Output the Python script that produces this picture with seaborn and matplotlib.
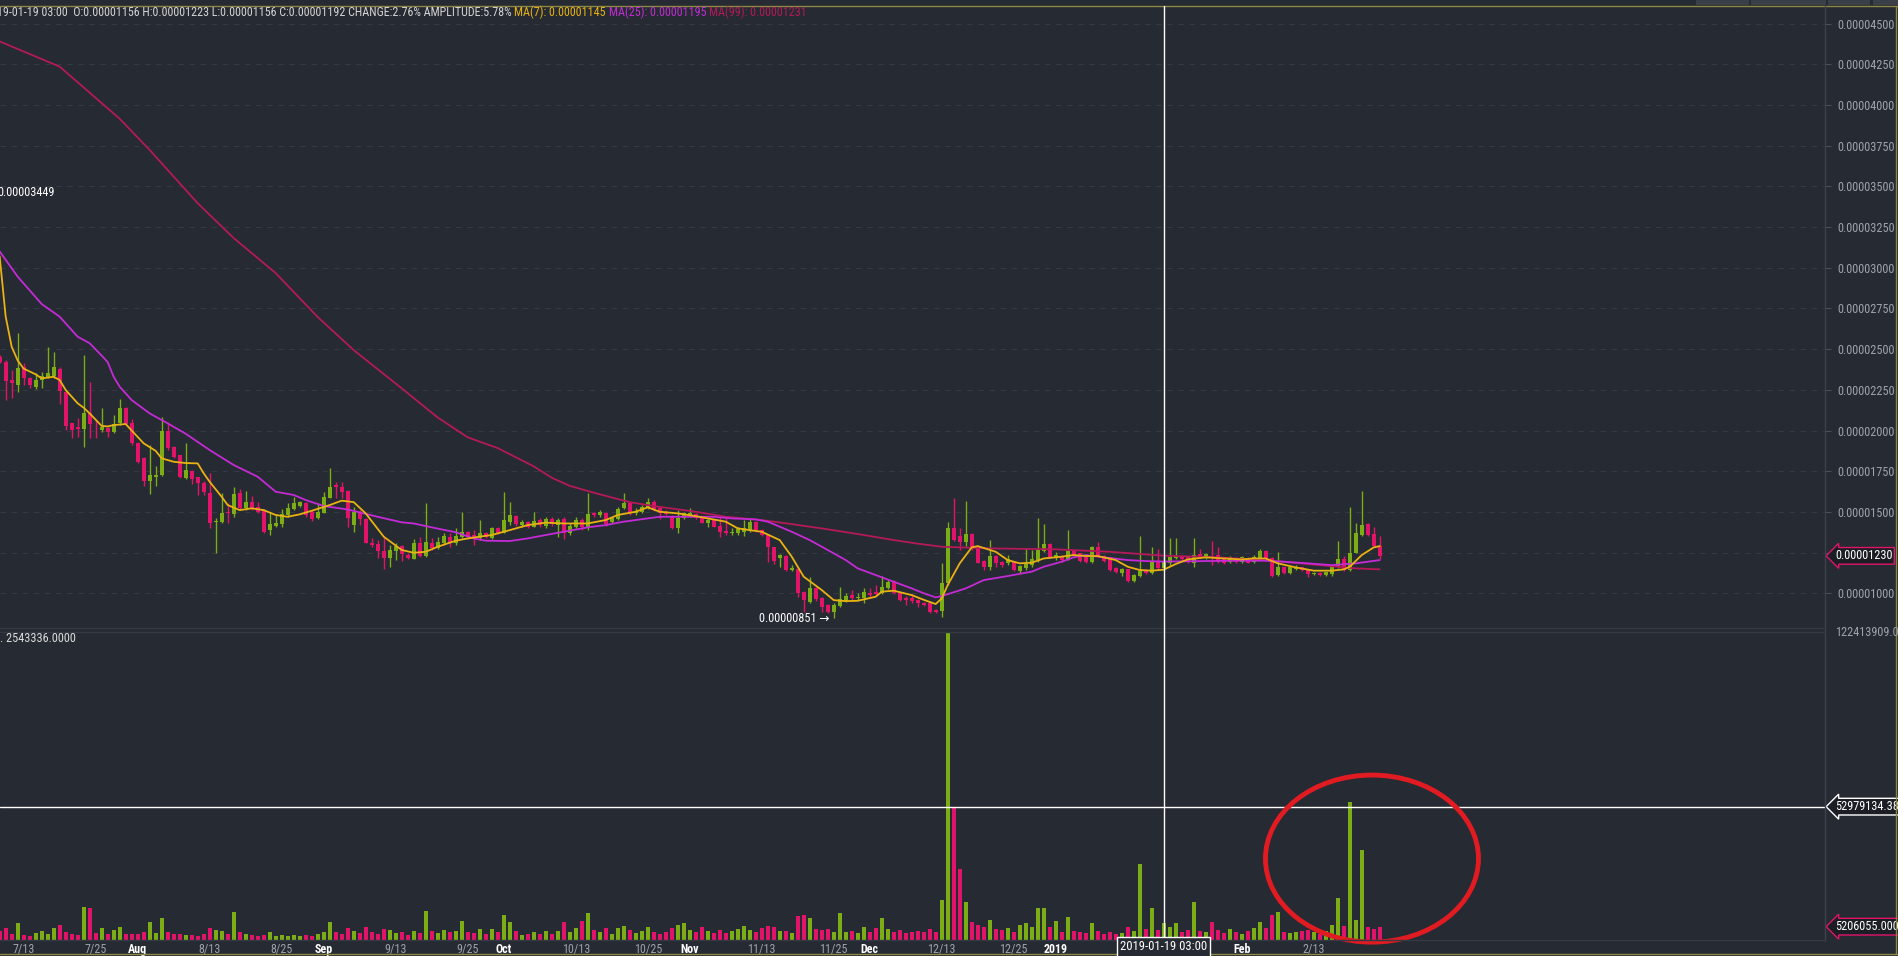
import datetime as dt
import numpy as np
import pandas as pd
import matplotlib
matplotlib.use("Agg")
import matplotlib.pyplot as plt
import matplotlib.dates as mdates
import matplotlib.transforms as mtrans
from matplotlib.lines import Line2D
from matplotlib.patches import Ellipse, Rectangle
from matplotlib import font_manager
import seaborn as sns

# ---------------- data (prices in units of 1e-8, volumes in millions) ----------------
START = "2018-07-09"
SCALE = 1e-8

opens = [
 2453, 2422, 2310, 2279, 2392, 2320, 2269, 2310, 2330, 2334,
 2377, 2238, 2044, 2019, 2009, 2105, 2017, 2003, 2017, 1993,
 2044, 2136, 2044, 1925, 1829, 1692, 1716, 1728, 1995, 1900,
 1847, 1710, 1753, 1712, 1679, 1618, 1436, 1440, 1501, 1485,
 1614, 1522, 1558, 1532, 1511, 1389, 1413, 1423, 1481, 1518,
 1536, 1556, 1501, 1460, 1495, 1587, 1663, 1651, 1628, 1419,
 1501, 1458, 1307, 1300, 1262, 1214, 1262, 1290, 1235, 1212,
 1307, 1229, 1307, 1276, 1307, 1348, 1307, 1348, 1376, 1358,
 1337, 1368, 1337, 1399, 1372, 1440, 1474, 1419, 1440, 1409,
 1450, 1413, 1456, 1419, 1454, 1368, 1409, 1450, 1405, 1495,
 1481, 1491, 1440, 1454, 1522, 1552, 1491, 1501, 1522, 1558,
 1522, 1501, 1474, 1399, 1460, 1481, 1485, 1460, 1434, 1450,
 1413, 1384, 1368, 1372, 1378, 1388, 1440, 1388, 1358, 1282,
 1214, 1229, 1143, 1149, 1010, 948, 1030, 973, 928, 887,
 922, 954, 989, 969, 971, 1004, 1006, 1004, 1030, 1071,
 999, 973, 969, 958, 942, 938, 897, 893, 1061, 1399,
 1352, 1317, 1364, 1282, 1200, 1163, 1229, 1194, 1184, 1194,
 1139, 1153, 1173, 1204, 1262, 1302, 1214, 1231, 1208, 1259,
 1245, 1221, 1194, 1282, 1229, 1221, 1153, 1122, 1147, 1077,
 1106, 1143, 1122, 1194, 1156, 1184, 1214, 1229, 1221, 1188,
 1241, 1214, 1229, 1235, 1214, 1194, 1219, 1194, 1214, 1194,
 1214, 1259, 1214, 1112, 1159, 1126, 1147, 1159, 1143, 1118,
 1126, 1112, 1118, 1159, 1208, 1143, 1249, 1358, 1425, 1364,
 1290]
highs = [
 2463, 2433, 2371, 2597, 2412, 2330, 2351, 2361, 2511, 2484,
 2388, 2244, 2048, 2074, 2463, 2300, 2064, 2136, 2023, 2095,
 2191, 2142, 2068, 1931, 1835, 1911, 1782, 2085, 2054, 1904,
 1851, 1925, 1757, 1716, 1692, 1737, 1460, 1614, 1556, 1651,
 1638, 1630, 1599, 1563, 1515, 1501, 1487, 1515, 1552, 1593,
 1565, 1563, 1511, 1552, 1620, 1769, 1685, 1685, 1634, 1532,
 1511, 1464, 1337, 1327, 1343, 1296, 1307, 1296, 1249, 1331,
 1348, 1552, 1337, 1348, 1368, 1368, 1403, 1501, 1382, 1388,
 1450, 1378, 1409, 1405, 1624, 1558, 1481, 1450, 1446, 1501,
 1460, 1470, 1470, 1460, 1470, 1429, 1470, 1460, 1614, 1501,
 1511, 1501, 1470, 1532, 1614, 1562, 1522, 1542, 1583, 1573,
 1528, 1511, 1481, 1511, 1501, 1522, 1491, 1466, 1460, 1454,
 1470, 1460, 1399, 1409, 1450, 1460, 1446, 1393, 1364, 1286,
 1241, 1235, 1173, 1153, 1016, 1102, 1036, 979, 934, 938,
 1036, 999, 1020, 1004, 1030, 1030, 1051, 1106, 1081, 1081,
 1004, 983, 993, 963, 948, 942, 901, 1188, 1440, 1583,
 1399, 1569, 1368, 1290, 1204, 1327, 1235, 1200, 1235, 1200,
 1173, 1276, 1266, 1460, 1425, 1307, 1255, 1235, 1388, 1266,
 1249, 1225, 1290, 1317, 1235, 1225, 1159, 1153, 1151, 1118,
 1352, 1147, 1282, 1270, 1223, 1337, 1337, 1235, 1225, 1337,
 1270, 1249, 1323, 1282, 1221, 1229, 1225, 1229, 1221, 1235,
 1270, 1266, 1221, 1255, 1163, 1163, 1173, 1163, 1147, 1133,
 1133, 1133, 1173, 1323, 1229, 1528, 1433, 1630, 1429, 1405,
 1352]
lows = [
 2412, 2187, 2197, 2238, 2279, 2259, 2253, 2259, 2320, 2320,
 2162, 2003, 1952, 1962, 1900, 1952, 1952, 1993, 1962, 1986,
 2033, 2033, 1911, 1798, 1659, 1610, 1659, 1720, 1880, 1829,
 1706, 1702, 1671, 1604, 1604, 1399, 1245, 1429, 1434, 1470,
 1511, 1511, 1511, 1491, 1368, 1358, 1409, 1409, 1470, 1511,
 1532, 1470, 1446, 1454, 1491, 1583, 1583, 1583, 1409, 1378,
 1419, 1307, 1286, 1219, 1149, 1159, 1204, 1200, 1208, 1208,
 1221, 1221, 1266, 1270, 1296, 1286, 1296, 1337, 1331, 1296,
 1327, 1337, 1331, 1364, 1368, 1419, 1413, 1409, 1399, 1405,
 1409, 1399, 1413, 1348, 1331, 1358, 1399, 1388, 1388, 1470,
 1470, 1413, 1429, 1450, 1515, 1481, 1481, 1491, 1515, 1507,
 1454, 1481, 1393, 1368, 1454, 1470, 1454, 1429, 1405, 1405,
 1343, 1358, 1358, 1358, 1352, 1378, 1378, 1352, 1194, 1178,
 1163, 1139, 1139, 979, 887, 938, 954, 887, 877, 851,
 918, 948, 958, 958, 938, 979, 989, 995, 1024, 995,
 952, 928, 938, 918, 922, 881, 881, 852, 1051, 1323,
 1266, 1290, 1266, 1184, 1143, 1143, 1163, 1159, 1173, 1139,
 1126, 1143, 1163, 1194, 1255, 1214, 1204, 1194, 1204, 1229,
 1194, 1188, 1188, 1221, 1194, 1139, 1126, 1106, 1071, 1071,
 1102, 1118, 1118, 1143, 1156, 1173, 1208, 1204, 1188, 1163,
 1214, 1208, 1173, 1188, 1178, 1188, 1188, 1188, 1184, 1188,
 1208, 1204, 1102, 1106, 1118, 1118, 1143, 1139, 1098, 1112,
 1106, 1106, 1106, 1153, 1139, 1139, 1245, 1352, 1352, 1286,
 1208]
closes = [
 2422, 2306, 2294, 2382, 2320, 2279, 2310, 2336, 2351, 2388,
 2244, 2027, 2003, 2011, 2105, 2040, 2013, 2019, 1988, 2038,
 2136, 2040, 1925, 1808, 1692, 1724, 1728, 1995, 1890, 1835,
 1712, 1757, 1700, 1679, 1620, 1434, 1444, 1495, 1491, 1610,
 1522, 1558, 1522, 1501, 1378, 1425, 1434, 1487, 1526, 1556,
 1560, 1481, 1456, 1501, 1593, 1655, 1655, 1624, 1460, 1501,
 1454, 1311, 1294, 1262, 1214, 1266, 1292, 1241, 1219, 1311,
 1229, 1315, 1276, 1317, 1352, 1307, 1354, 1378, 1343, 1337,
 1368, 1348, 1399, 1372, 1450, 1481, 1423, 1440, 1409, 1444,
 1419, 1454, 1423, 1450, 1368, 1415, 1450, 1405, 1487, 1481,
 1501, 1425, 1460, 1515, 1556, 1491, 1507, 1532, 1558, 1515,
 1491, 1487, 1399, 1460, 1491, 1491, 1460, 1434, 1450, 1409,
 1378, 1368, 1378, 1393, 1399, 1440, 1388, 1358, 1282, 1200,
 1235, 1143, 1157, 1000, 958, 1030, 963, 918, 887, 928,
 963, 983, 969, 979, 1008, 989, 995, 1040, 1067, 1004,
 958, 958, 952, 942, 928, 887, 887, 1061, 1399, 1327,
 1317, 1364, 1276, 1188, 1163, 1229, 1188, 1173, 1208, 1143,
 1167, 1180, 1208, 1266, 1302, 1221, 1235, 1204, 1259, 1235,
 1200, 1194, 1282, 1229, 1200, 1143, 1133, 1147, 1077, 1112,
 1139, 1122, 1194, 1153, 1192, 1225, 1229, 1208, 1194, 1235,
 1221, 1241, 1214, 1194, 1184, 1221, 1194, 1221, 1188, 1225,
 1259, 1208, 1106, 1163, 1122, 1159, 1163, 1143, 1118, 1126,
 1112, 1128, 1159, 1208, 1143, 1249, 1368, 1419, 1358, 1290,
 1230]
volumes_m = [
 3.5, 4.5, 2.2, 6.5, 2.0, 1.6, 2.6, 3.6, 2.4, 4.8,
 5.8, 3.0, 2.2, 2.0, 13.0, 12.5, 2.8, 4.5, 2.1, 3.8,
 5.0, 2.4, 2.1, 2.2, 3.0, 7.0, 2.5, 8.5, 3.2, 2.4,
 2.2, 1.9, 1.8, 1.6, 2.1, 4.6, 3.8, 3.6, 2.4, 11.0,
 3.2, 2.1, 1.8, 1.5, 1.8, 3.1, 1.5, 1.8, 1.6, 1.9,
 1.5, 1.8, 1.5, 2.2, 3.0, 7.0, 3.2, 2.1, 4.6, 3.6,
 2.7, 5.2, 3.0, 2.4, 4.4, 3.8, 2.7, 3.0, 1.8, 3.6,
 2.5, 11.5, 3.5, 2.7, 3.8, 3.0, 3.6, 7.5, 3.1, 2.7,
 4.2, 2.4, 4.4, 3.0, 10.0, 7.0, 3.4, 2.0, 2.4, 3.1,
 2.2, 3.4, 2.4, 3.6, 7.0, 3.0, 4.6, 7.5, 10.5, 3.8,
 3.2, 4.8, 2.4, 4.5, 5.5, 4.0, 2.7, 3.5, 5.2, 3.0,
 2.4, 3.2, 4.8, 6.0, 6.8, 3.8, 3.0, 4.9, 3.6, 2.8,
 3.8, 2.7, 3.5, 4.4, 5.4, 4.0, 3.2, 4.5, 5.6, 5.2,
 3.6, 3.5, 2.8, 9.5, 10.0, 8.5, 4.4, 3.8, 4.4, 3.2,
 10.5, 3.0, 3.6, 2.8, 5.0, 3.1, 4.6, 8.5, 4.4, 3.2,
 4.0, 2.7, 3.0, 3.6, 3.2, 4.4, 3.0, 16.0, 122.413909, 53.0,
 28.0, 15.0, 7.0, 6.0, 5.2, 8.0, 4.4, 4.0, 4.6, 3.2,
 6.0, 6.8, 5.2, 12.5, 12.5, 5.0, 7.5, 3.2, 9.0, 3.5,
 3.0, 2.7, 6.5, 3.5, 2.4, 3.0, 2.2, 2.5, 5.0, 3.4,
 30.0, 4.4, 12.5, 4.0, 6.8, 5.0, 6.5, 3.0, 3.8, 15.0,
 3.5, 3.1, 7.0, 3.8, 2.7, 4.4, 3.0, 2.2, 3.5, 4.6,
 7.0, 4.8, 10.0, 11.0, 3.2, 2.5, 3.0, 3.5, 4.0, 3.0,
 2.4, 3.6, 6.0, 16.8, 5.5, 54.9, 7.7, 35.6, 5.0, 4.4,
 5.206055]

# moving averages (day offset from START, value in 1e-8)
ma7_day = [0,1,2,3,4,6,7,9,10,11,13,14,15,17,18,19,21,22,24,26,27,29,31,33,34,35,37,38,40,42,44,46,48,50,52,
           55,57,59,61,64,67,69,71,73,76,78,80,82,85,88,91,94,98,101,103,106,108,110,113,116,118,121,123,125,127,
           130,132,134,137,139,141,143,146,147,149,152,154,156,157,158,160,162,163,166,168,170,172,174,177,179,
           181,183,186,188,190,192,194,196,198,201,204,207,209,211,213,216,219,222,224,225,227,229,230]
ma7_val = [3070,2700,2515,2430,2380,2345,2320,2330,2310,2249,2167,2140,2105,2028,2025,2033,2040,2000,1921,1875,
           1829,1808,1800,1798,1737,1685,1593,1542,1511,1522,1511,1481,1470,1485,1507,1542,1569,1560,1491,1348,
           1266,1249,1255,1286,1323,1337,1348,1358,1388,1419,1434,1429,1429,1450,1481,1501,1528,1501,1491,1474,
           1460,1440,1399,1388,1378,1327,1225,1102,1020,958,952,954,979,1010,1016,989,960,934,969,1051,
           1184,1282,1290,1255,1204,1184,1188,1214,1225,1235,1229,1229,1204,1163,1143,1139,1145,1180,1208,1221,
           1214,1208,1214,1214,1184,1159,1139,1139,1147,1163,1235,1282,1290]
ma25_day = [0,3,7,10,13,15,17,18,19,20,22,25,28,31,35,39,43,46,49,51,54,58,63,67,69,72,76,79,81,85,88,91,94,98,
            101,104,108,110,119,122,126,128,130,132,135,138,141,143,146,149,152,154,156,157,161,164,168,172,174,
            177,179,181,184,188,191,194,206,211,214,218,222,226,228,230]
ma25_val = [3100,2945,2777,2699,2576,2536,2460,2420,2330,2269,2187,2105,2044,1980,1880,1788,1716,1624,1604,1573,
            1536,1515,1470,1436,1429,1405,1375,1337,1323,1321,1337,1358,1378,1405,1419,1440,1460,1470,1470,1460,
            1454,1440,1409,1378,1327,1266,1204,1153,1112,1071,1030,1000,975,983,1030,1081,1106,1133,1163,1194,
            1221,1235,1221,1204,1198,1195,1200,1200,1194,1184,1173,1184,1194,1204]
ma99_day = [0,10,20,25,33,39,46,53,59,67,73,78,83,89,92,95,99,105,109,116,121,127,132,138,143,149,153,157,165,
            176,185,194,203,212,220,226,230]
ma99_val = [4390,4235,3915,3723,3396,3182,2967,2697,2494,2259,2080,1958,1892,1780,1710,1660,1618,1560,1536,1501,
            1470,1450,1425,1393,1364,1327,1305,1286,1276,1270,1255,1231,1221,1200,1173,1153,1147]

price_ticks = [1000, 1250, 1500, 1750, 2000, 2250, 2500, 2750, 3000, 3250, 3500, 3750, 4000, 4250, 4500]
xtick_dates = ["2018-07-13", "2018-07-25", "2018-08-01", "2018-08-13", "2018-08-25", "2018-09-01",
               "2018-09-13", "2018-09-25", "2018-10-01", "2018-10-13", "2018-10-25", "2018-11-01",
               "2018-11-13", "2018-11-25", "2018-12-01", "2018-12-13", "2018-12-25", "2019-01-01",
               "2019-02-01", "2019-02-13"]
xtick_labels = ["7/13", "7/25", "Aug", "8/13", "8/25", "Sep", "9/13", "9/25", "Oct", "10/13", "10/25",
                "Nov", "11/13", "11/25", "Dec", "12/13", "12/25", "2019", "Feb", "2/13"]
month_labels = {"Aug", "Sep", "Oct", "Nov", "Dec", "2019", "Feb"}

CROSS_DATE = "2019-01-19"
CROSS_LABEL = "2019-01-19 03:00"
CROSS_VOL = 52979134.38
LAST_PRICE = 1230
LAST_VOL = 5206055
HIGH_LABEL = 3449
LOW_LABEL = 851
VOL_INFO = "2543336.0000"
header_main = ("2019-01-19 03:00  O:0.00001156 H:0.00001223 L:0.00001156 C:0.00001192 "
               "CHANGE:2.76% AMPLITUDE:5.78% ")
header_ma = [("MA(7): 0.00001145 ", "ma7"), ("MA(25): 0.00001195 ", "ma25"), ("MA(99): 0.00001231", "ma99")]

# ---------------- style ----------------
BG = "#262a32"
GREEN = "#7cad17"
PINK = "#e2146a"
C_MA7 = "#e9b213"
C_MA25 = "#c42ad6"
C_MA99 = "#b4195a"
TXT = "#9ea3ab"
GRID = "#343944"
FRAME = "#8c8744"
RED = "#e01b22"
MA_COL = {"ma7": C_MA7, "ma25": C_MA25, "ma99": C_MA99}

sns.set_theme(style="dark", rc={"axes.facecolor": BG, "figure.facecolor": BG})
names = {f.name for f in font_manager.fontManager.ttflist}
FONT = None
for cand in ["Liberation Sans Narrow", "Roboto Condensed", "Open Sans Condensed", "Noto Sans Condensed",
             "Arial Narrow", "Roboto", "Liberation Sans"]:
    if cand in names:
        FONT = cand
        break
if FONT is None:
    FONT = "DejaVu Sans"
plt.rcParams["font.family"] = [FONT, "DejaVu Sans"]

W, H = 1899, 956
fig = plt.figure(figsize=(W / 100, H / 100), dpi=100, facecolor=BG)
renderer = fig.canvas.get_renderer()


def fx(px):
    return px / W


def fy(py):
    return 1 - py / H


def fit_size(sample, target_px, weight="normal"):
    t = fig.text(0, 0, sample, fontsize=10, fontweight=weight)
    w = t.get_window_extent(renderer).width
    t.remove()
    return 10 * target_px / w


FS_AX = fit_size("0.00004500", 57)
FS_X = fit_size("10/13", 28)
FS_BOX = fit_size(CROSS_LABEL, 86)
FS_HEAD = fit_size(header_main + "".join(t for t, _ in header_ma), 816)

axp = fig.add_axes([0, fy(627), fx(1825), (627 - 6) / H])
axv = fig.add_axes([0, fy(941), fx(1825), (941 - 630) / H], sharex=axp)
for a in (axp, axv):
    a.set_facecolor(BG)
    for s in a.spines.values():
        s.set_visible(False)

n = len(opens)
assert n == len(highs) == len(lows) == len(closes) == len(volumes_m)
dates = pd.date_range(START, periods=n, freq="D")
xn = mdates.date2num(dates)
o = np.array(opens) * SCALE
h = np.array(highs) * SCALE
l = np.array(lows) * SCALE
c = np.array(closes) * SCALE
up = c >= o
cols = np.where(up, GREEN, PINK)
x0 = mdates.date2num(pd.Timestamp(START))

# ---------------- price panel ----------------
axp.vlines(xn, l, h, colors=cols, lw=1.0, zorder=2)
axp.bar(xn, np.maximum(np.abs(c - o), 0.04e-6), bottom=np.minimum(o, c), width=0.64,
        color=cols, linewidth=0, zorder=3)

for days, vals, col in ((ma99_day, ma99_val, C_MA99), (ma25_day, ma25_val, C_MA25), (ma7_day, ma7_val, C_MA7)):
    sns.lineplot(x=x0 + np.array(days), y=np.array(vals) * SCALE, ax=axp, color=col, lw=1.3,
                 estimator=None, sort=False, zorder=4)

axp.set_xlim(x0 + 0.056, x0 + 304.2)
axp.set_ylim(7.93e-6, 46.075e-6)
axp.set_yticks(np.array(price_ticks) * SCALE)
axp.yaxis.set_major_formatter(matplotlib.ticker.FuncFormatter(lambda v, p: f"{v:.8f}"))
axp.yaxis.tick_right()
axp.tick_params(axis="y", length=4, width=0.8, color="#4a505a", pad=5, labelcolor=TXT, labelsize=FS_AX)
axp.tick_params(axis="x", length=0, labelbottom=False)
axp.grid(axis="y", color=GRID, ls=(0, (5, 5)), lw=0.8)
axp.grid(axis="x", visible=False)
axp.set_xlabel("")
axp.set_ylabel("")

# high / low markers
axp.annotate(f"0.{HIGH_LABEL:08d}", xy=(0, HIGH_LABEL * SCALE), xycoords=("axes fraction", "data"),
             xytext=(-3, 2), textcoords="offset pixels", ha="left", va="center", color="white", fontsize=FS_AX)
ilow = int(np.argmin(l))
axp.annotate(f"0.{LOW_LABEL:08d} \u2192", xy=(xn[ilow], LOW_LABEL * SCALE), xytext=(-4, -1),
             textcoords="offset pixels", ha="right", va="center", color="white", fontsize=FS_AX)

# ---------------- volume panel ----------------
axv.bar(xn, np.array(volumes_m) * 1e6, width=0.64, color=cols, linewidth=0, zorder=3)
axv.set_ylim(-0.5e6, 123.3e6)
axv.set_yticks([])
axv.grid(False)
axv.set_xticks(mdates.date2num(pd.to_datetime(xtick_dates)))
axv.set_xticklabels(xtick_labels)
axv.tick_params(axis="x", length=0, pad=1.5, labelsize=FS_X, labelcolor=TXT)
for t in axv.get_xticklabels():
    if t.get_text() in month_labels:
        t.set_color("white")
        t.set_fontweight("bold")
axv.set_xlabel("")
axv.set_ylabel("")
axv.axhline(CROSS_VOL, color="white", lw=1, zorder=5)

xc = mdates.date2num(pd.Timestamp(CROSS_DATE))
blend = mtrans.blended_transform_factory(axp.transData, fig.transFigure)
fig.add_artist(Line2D([xc, xc], [fy(6), fy(941)], transform=blend, color="white", lw=1, zorder=6))
fig.text(xc, fy(947), CROSS_LABEL, transform=blend, ha="center", va="center", color="white",
         fontsize=FS_BOX, zorder=8, bbox=dict(boxstyle="square,pad=0.25", fc=BG, ec="white", lw=1))

# ellipse annotation
axv.add_patch(Ellipse((x0 + 228.7, 32.3e6), width=35.5, height=66.5e6, fill=False, ec=RED, lw=3.5,
                      clip_on=False, zorder=9))

# ---------------- tags on right axis ----------------
def tag(ax, y, text, ec):
    tr = mtrans.blended_transform_factory(ax.transAxes, ax.transData)
    ax.text(1 + 10 / 1825, y, text, transform=tr, ha="left", va="center", color="white", fontsize=FS_AX,
            clip_on=False, zorder=10,
            bbox=dict(boxstyle="larrow,pad=0.15", fc="#1b1e24", ec=ec, lw=1))

tag(axp, LAST_PRICE * SCALE, f"{LAST_PRICE * SCALE:.8f}", PINK)
tag(axv, CROSS_VOL, f"{CROSS_VOL:.2f}", "white")
tag(axv, LAST_VOL, f"{LAST_VOL:.3f}", PINK)
fig.text(fx(1835), fy(633), f"{max(volumes_m) * 1e6:.2f}", color=TXT, fontsize=FS_AX, ha="left", va="center")
fig.text(fx(0), fy(639), ". " + VOL_INFO, color="#dcdcdc", fontsize=FS_AX, ha="left", va="center")

# ---------------- frame lines ----------------
fig.add_artist(Line2D([0, 1], [fy(6), fy(6)], transform=fig.transFigure, color=FRAME, lw=1))
fig.add_artist(Line2D([fx(1896), fx(1896)], [fy(6), fy(954)], transform=fig.transFigure, color=FRAME, lw=1))
fig.add_artist(Line2D([0, 1], [fy(954), fy(954)], transform=fig.transFigure, color=FRAME, lw=1))
fig.add_artist(Line2D([fx(1825), fx(1825)], [fy(6), fy(941)], transform=fig.transFigure, color="#3d424c", lw=1))
for yy in (628, 632, 940):
    fig.add_artist(Line2D([0, fx(1825)], [fy(yy), fy(yy)], transform=fig.transFigure, color="#343944", lw=1))
for x1, x2 in ((1696, 1749), (1751, 1826), (1828, 1870), (1873, 1899)):
    fig.add_artist(Rectangle((fx(x1), fy(5)), fx(x2 - x1), 5 / H, transform=fig.transFigure,
                             fc="#3a3f48", ec="none"))

# ---------------- header ----------------
xpos = -15.0
for txt, col in [(header_main, "#d4d4d4")] + [(t, MA_COL[k]) for t, k in header_ma]:
    tt = fig.text(fx(xpos), fy(12), txt, color=col, fontsize=FS_HEAD, ha="left", va="center")
    xpos += tt.get_window_extent(renderer).width

fig.savefig("out.png", dpi=100, facecolor=BG)
